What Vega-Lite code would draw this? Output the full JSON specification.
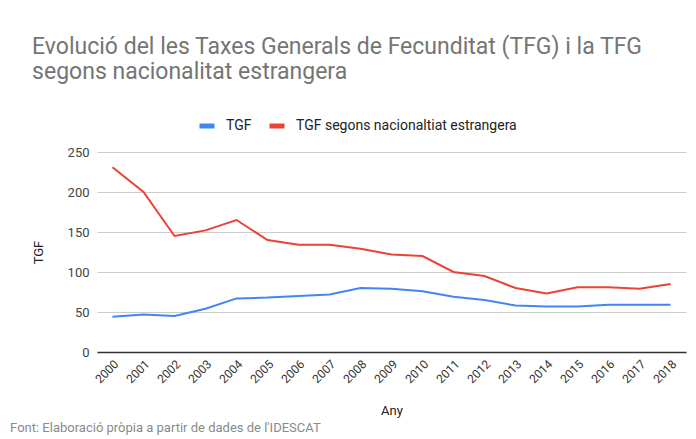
{
  "$schema": "https://vega.github.io/schema/vega-lite/v6.json",
  "background": "white",
  "padding": {"left": 10, "top": 35, "right": 10, "bottom": 2},
  "title": {
    "text": "Font: Elaboració pròpia a partir de dades de l'IDESCAT",
    "orient": "bottom",
    "anchor": "start",
    "frame": "bounds",
    "dx": -22,
    "offset": 4,
    "fontSize": 13,
    "fontWeight": "normal",
    "color": "#8a8a8a",
    "font": "Roboto"
  },
  "vconcat": [
    {
      "width": 589,
      "height": 200,
      "title": {
        "text": ["Evolució del les Taxes Generals de Fecunditat (TFG) i la TFG", "segons nacionalitat estrangera"],
        "anchor": "start",
        "frame": "bounds",
        "fontSize": 23,
        "lineHeight": 25.5,
        "fontWeight": "normal",
        "color": "#757575",
        "font": "Roboto",
        "offset": 62
      },
      "data": {
        "values": [
          {"Any": "2000", "serie": "TGF", "valor": 44},
          {"Any": "2001", "serie": "TGF", "valor": 47},
          {"Any": "2002", "serie": "TGF", "valor": 45},
          {"Any": "2003", "serie": "TGF", "valor": 54},
          {"Any": "2004", "serie": "TGF", "valor": 67},
          {"Any": "2005", "serie": "TGF", "valor": 68},
          {"Any": "2006", "serie": "TGF", "valor": 70},
          {"Any": "2007", "serie": "TGF", "valor": 72},
          {"Any": "2008", "serie": "TGF", "valor": 80},
          {"Any": "2009", "serie": "TGF", "valor": 79},
          {"Any": "2010", "serie": "TGF", "valor": 76},
          {"Any": "2011", "serie": "TGF", "valor": 69},
          {"Any": "2012", "serie": "TGF", "valor": 65},
          {"Any": "2013", "serie": "TGF", "valor": 58},
          {"Any": "2014", "serie": "TGF", "valor": 57},
          {"Any": "2015", "serie": "TGF", "valor": 57},
          {"Any": "2016", "serie": "TGF", "valor": 59},
          {"Any": "2017", "serie": "TGF", "valor": 59},
          {"Any": "2018", "serie": "TGF", "valor": 59},
          {"Any": "2000", "serie": "TGF segons nacionaltiat estrangera", "valor": 231},
          {"Any": "2001", "serie": "TGF segons nacionaltiat estrangera", "valor": 200},
          {"Any": "2002", "serie": "TGF segons nacionaltiat estrangera", "valor": 145},
          {"Any": "2003", "serie": "TGF segons nacionaltiat estrangera", "valor": 152},
          {"Any": "2004", "serie": "TGF segons nacionaltiat estrangera", "valor": 165},
          {"Any": "2005", "serie": "TGF segons nacionaltiat estrangera", "valor": 140},
          {"Any": "2006", "serie": "TGF segons nacionaltiat estrangera", "valor": 134},
          {"Any": "2007", "serie": "TGF segons nacionaltiat estrangera", "valor": 134},
          {"Any": "2008", "serie": "TGF segons nacionaltiat estrangera", "valor": 129},
          {"Any": "2009", "serie": "TGF segons nacionaltiat estrangera", "valor": 122},
          {"Any": "2010", "serie": "TGF segons nacionaltiat estrangera", "valor": 120},
          {"Any": "2011", "serie": "TGF segons nacionaltiat estrangera", "valor": 100},
          {"Any": "2012", "serie": "TGF segons nacionaltiat estrangera", "valor": 95},
          {"Any": "2013", "serie": "TGF segons nacionaltiat estrangera", "valor": 80},
          {"Any": "2014", "serie": "TGF segons nacionaltiat estrangera", "valor": 73},
          {"Any": "2015", "serie": "TGF segons nacionaltiat estrangera", "valor": 81},
          {"Any": "2016", "serie": "TGF segons nacionaltiat estrangera", "valor": 81},
          {"Any": "2017", "serie": "TGF segons nacionaltiat estrangera", "valor": 79},
          {"Any": "2018", "serie": "TGF segons nacionaltiat estrangera", "valor": 85}
        ]
      },
      "mark": {"type": "line", "strokeWidth": 2},
      "encoding": {
        "x": {
          "field": "Any",
          "type": "ordinal",
          "scale": {"type": "point", "padding": 0.5},
          "axis": {
            "title": "Any",
            "labelAngle": -45,
            "labelFontSize": 12,
            "labelColor": "#333333",
            "labelPadding": 6,
            "ticks": false,
            "grid": false,
            "domainColor": "#333333",
            "domainWidth": 1.5,
            "titleFontSize": 13,
            "titleFontWeight": "normal",
            "titleColor": "#222222",
            "titlePadding": 20
          }
        },
        "y": {
          "field": "valor",
          "type": "quantitative",
          "scale": {"domain": [0, 250], "nice": false},
          "axis": {
            "title": "TGF",
            "values": [0, 50, 100, 150, 200, 250],
            "labelFontSize": 13,
            "labelColor": "#444444",
            "labelPadding": 8,
            "ticks": false,
            "domain": false,
            "gridColor": "#cccccc",
            "titleFontSize": 13,
            "titleFontWeight": "normal",
            "titleColor": "#222222",
            "titlePadding": 22
          }
        },
        "color": {
          "field": "serie",
          "type": "nominal",
          "scale": {"domain": ["TGF", "TGF segons nacionaltiat estrangera"], "range": ["#4285F4", "#EA4335"]},
          "legend": {
            "title": null,
            "orient": "none",
            "direction": "horizontal",
            "gridAlign": "none",
            "legendX": 100,
            "legendY": -36,
            "symbolType": "stroke",
            "symbolSize": 225,
            "symbolStrokeWidth": 5,
            "labelFontSize": 14,
            "labelLimit": 400,
            "labelColor": "#222222",
            "labelOffset": 9,
            "columnPadding": 7
          }
        }
      }
    }
  ],
  "config": {
    "font": "Roboto",
    "view": {"stroke": null}
  }
}
